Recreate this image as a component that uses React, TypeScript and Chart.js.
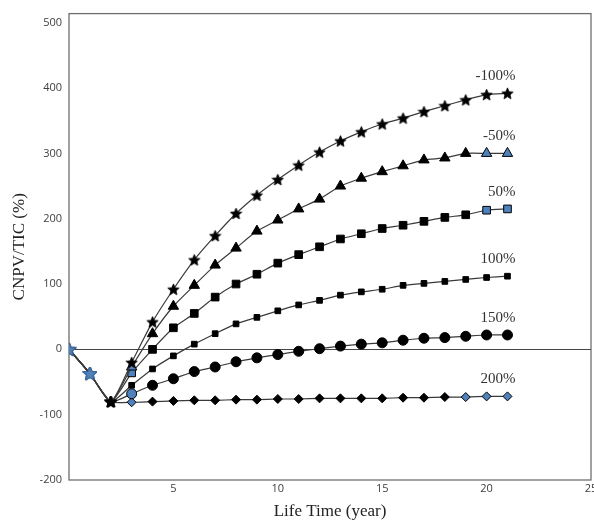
import { useEffect, useRef } from 'react';
import { Chart, registerables } from 'chart.js';

Chart.register(...registerables);

const years = [0, 1, 2, 3, 4, 5, 6, 7, 8, 9, 10, 11, 12, 13, 14, 15, 16, 17, 18, 19, 20, 21];
const seriesNames = ['-100%', '-50%', '50%', '100%', '150%', '200%'];

const minus100 = [0, -37, -80, -20, 42, 92, 137, 174, 208, 236, 260, 282, 302, 319, 333, 345, 354, 364, 373, 382, 390, 392];
const minus50 = [0, -37, -80, -27, 24, 66, 98, 129, 155, 181, 198, 215, 230, 250, 262, 272, 281, 290, 293, 300, 300, 300];
const plus50 = [0, -37, -80, -36, 0, 33, 55, 80, 100, 115, 132, 145, 157, 169, 177, 185, 190, 196, 202, 206, 213, 215];
const plus100 = [0, -37, -80, -55, -30, -10, 8, 24, 39, 49, 59, 68, 75, 83, 88, 92, 98, 101, 104, 107, 110, 112];
const plus150 = [0, -37, -80, -68, -55, -45, -34, -27, -19, -13, -8, -3, 1, 5, 8, 10, 14, 17, 18, 20, 22, 22];
const plus200 = [0, -37, -80, -81, -80, -79, -78, -78, -77, -77, -76, -76, -75, -75, -75, -75, -74, -74, -73, -73, -72, -72];

const yTicks = [-200, -100, 0, 100, 200, 300, 400, 500];
const xTicks = [5, 10, 15, 20, 25];

// indices of points drawn with blue markers (style only)
const blueIdx = [
  [],
  [3, 20, 21],
  [3, 20, 21],
  [],
  [3],
  [3, 19, 20, 21],
];

function makeStar(fill: string, stroke: string, size: number) {
  const c = document.createElement('canvas');
  c.width = size;
  c.height = size;
  const g = c.getContext('2d')!;
  const cx = size / 2;
  const R = size / 2 - 0.5;
  const r = R * 0.45;
  g.beginPath();
  for (let i = 0; i < 10; i++) {
    const a = -Math.PI / 2 + (i * Math.PI) / 5;
    const rr = i % 2 === 0 ? R : r;
    g.lineTo(cx + rr * Math.cos(a), cx + 0.6 + rr * Math.sin(a));
  }
  g.closePath();
  g.fillStyle = fill;
  g.fill();
  g.strokeStyle = stroke;
  g.lineWidth = 0.8;
  g.stroke();
  return c;
}

export default function App() {
  const ref = useRef<HTMLCanvasElement>(null);

  useEffect(() => {
    const blackStar = makeStar('#000', '#000', 13);
    const blueStar = makeStar('#4f81bd', '#3b6592', 15);
    const BLUE = '#4f81bd';

    const allSeries = [minus100, minus50, plus50, plus100, plus150, plus200];
    const styles: any[] = [blackStar, 'triangle', 'rect', 'rect', 'circle', 'rectRot'];
    const radii = [7, 6, 5.4, 4, 5, 4.5];

    const datasets = allSeries.map((vals, s) => ({
      label: seriesNames[s],
      data: years.map((x, i) => ({ x, y: vals[i] })),
      borderColor: '#3a3a3a',
      borderWidth: 1.2,
      tension: 0.2,
      fill: false,
      pointStyle: years.map((_, i) => (i < 2 ? blueStar : i === 2 ? blackStar : styles[s])),
      pointRadius: years.map((_, i) => (i <= 2 ? 7 : radii[s])),
      pointBackgroundColor: years.map((_, i) => (blueIdx[s].includes(i) ? BLUE : '#000')),
      pointBorderColor: '#000',
      pointBorderWidth: 1,
    }));

    const framePlugin = {
      id: 'frame',
      beforeDatasetsDraw(chart: any) {
        const { ctx, chartArea, scales } = chart;
        ctx.save();
        ctx.strokeStyle = '#6f6f6f';
        ctx.lineWidth = 1.3;
        ctx.strokeRect(chartArea.left, chartArea.top, chartArea.right - chartArea.left, chartArea.bottom - chartArea.top);
        const y0 = Math.round(scales.y.getPixelForValue(0)) + 0.5;
        ctx.strokeStyle = '#444';
        ctx.lineWidth = 1.2;
        ctx.beginPath();
        ctx.moveTo(chartArea.left, y0);
        ctx.lineTo(chartArea.right, y0);
        ctx.stroke();
        ctx.restore();
      },
      afterDatasetsDraw(chart: any) {
        const { ctx, scales } = chart;
        ctx.save();
        ctx.font = '15px "Liberation Serif"';
        ctx.fillStyle = '#333';
        ctx.textAlign = 'right';
        ctx.textBaseline = 'middle';
        allSeries.forEach((vals, s) => {
          const last = vals.length - 1;
          const px = scales.x.getPixelForValue(years[last]) + 8;
          const py = scales.y.getPixelForValue(vals[last]) - 17;
          ctx.fillText(seriesNames[s], px, py);
        });
        ctx.restore();
      },
    };

    const chart = new Chart(ref.current!, {
      type: 'line',
      data: { datasets },
      plugins: [framePlugin],
      options: {
        animation: false,
        responsive: false,
        layout: { padding: { top: 11, right: 19, bottom: 5, left: 9 } },
        plugins: { legend: { display: false }, tooltip: { enabled: false } },
        scales: {
          x: {
            type: 'linear',
            min: 0,
            max: 25,
            afterBuildTicks: (s: any) => {
              s.ticks = xTicks.map((v) => ({ value: v }));
            },
            afterFit: (s: any) => {
              s.height = 42;
            },
            grid: { display: false, drawTicks: false },
            border: { display: false },
            ticks: {
              padding: 2,
              autoSkip: false,
              maxRotation: 0,
              color: '#404040',
              font: { family: '"Open Sans"', size: 11 },
            },
            title: {
              display: true,
              text: 'Life Time (year)',
              color: '#222',
              font: { family: '"Liberation Serif"', size: 17 },
              padding: { top: 6, bottom: 0 },
            },
          },
          y: {
            type: 'linear',
            min: -200,
            max: 514,
            afterBuildTicks: (s: any) => {
              s.ticks = yTicks.map((v) => ({ value: v }));
            },
            afterFit: (s: any) => {
              s.width = 60;
            },
            grid: { display: false, drawTicks: false },
            border: { display: false },
            ticks: {
              padding: 7,
              autoSkip: false,
              color: '#404040',
              font: { family: '"Open Sans"', size: 11 },
            },
            title: {
              display: true,
              text: 'CNPV/TIC (%)',
              color: '#222',
              font: { family: '"Liberation Serif"', size: 17 },
              padding: { top: 0, bottom: 0 },
            },
          },
        },
      },
    } as any);

    return () => chart.destroy();
  }, []);

  return (
    <div style={{ position: 'absolute', left: 0, top: 0, width: 594, height: 527, overflow: 'hidden', background: '#fff' }}>
      <canvas ref={ref} width={610} height={527} style={{ display: 'block' }} />
    </div>
  );
}
